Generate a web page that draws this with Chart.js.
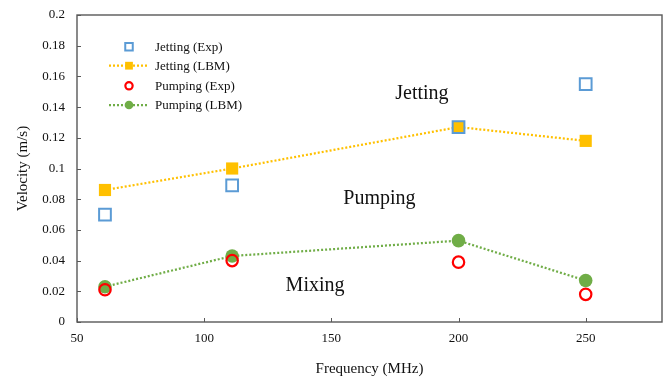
<!DOCTYPE html>
<html>
<head>
<meta charset="utf-8">
<script src="https://cdn.jsdelivr.net/npm/chart.js@4/dist/chart.umd.min.js"></script>
<style>
  html, body { margin: 0; padding: 0; background: #fff; }
  #wrap { width: 664px; height: 379px; }
</style>
</head>
<body>
<div id="wrap"><canvas id="c" width="664" height="379"></canvas></div>
<script>
// Measured velocities against driving frequency
const frequencies = [61, 111, 200, 250];
const jettingExp  = [0.070, 0.089, 0.127, 0.155];
const jettingLBM  = [0.086, 0.100, 0.127, 0.118];
const pumpingExp  = [0.021, 0.040, 0.039, 0.018];
const pumpingLBM  = [0.023, 0.043, 0.053, 0.027];

const xTickValues = [50, 100, 150, 200, 250];
const seriesNames = ['Jetting (Exp)', 'Jetting (LBM)', 'Pumping (Exp)', 'Pumping (LBM)'];

// Flow regime labels placed in data coordinates
const regimeText = ['Jetting', 'Pumping', 'Mixing'];
const regimeFreq = [185.6, 168.9, 143.6];
const regimeVel  = [0.1454, 0.0769, 0.0202];

const SERIF = "'Liberation Serif', 'Times New Roman', serif";
const BLUE = '#5B9BD5', GOLD = '#FFC000', RED = '#FF0000', GREEN = '#70AD47';

const pts = vals => frequencies.map((f, i) => ({ x: f, y: vals[i] }));

const datasets = [
  { label: seriesNames[0], data: pts(jettingExp), showLine: false,
    pointStyle: 'rect', pointRadius: 8.3, pointBorderWidth: 2,
    pointBackgroundColor: 'rgba(0,0,0,0)', pointBorderColor: BLUE, borderColor: BLUE },
  { label: seriesNames[1], data: pts(jettingLBM), showLine: true,
    borderColor: GOLD, borderWidth: 2.25, borderDash: [2, 2],
    pointStyle: 'rect', pointRadius: 8.6, pointBorderWidth: 0,
    pointBackgroundColor: GOLD, pointBorderColor: GOLD },
  { label: seriesNames[2], data: pts(pumpingExp), showLine: false,
    pointStyle: 'circle', pointRadius: 5.7, pointBorderWidth: 2.2,
    pointBackgroundColor: 'rgba(0,0,0,0)', pointBorderColor: RED, borderColor: RED },
  { label: seriesNames[3], data: pts(pumpingLBM), showLine: true,
    borderColor: GREEN, borderWidth: 2.25, borderDash: [2, 2],
    pointStyle: 'circle', pointRadius: 6.8, pointBorderWidth: 0,
    pointBackgroundColor: GREEN, pointBorderColor: GREEN }
];

// Plot frame, inward tick marks, regime labels and the inset legend
const decorations = {
  id: 'decorations',
  beforeDatasetsDraw(chart) {
    const { ctx, chartArea: a, scales } = chart;
    ctx.save();
    ctx.strokeStyle = '#595959';
    ctx.lineWidth = 1.4;
    ctx.strokeRect(a.left, a.top, a.right - a.left, a.bottom - a.top);
    ctx.lineWidth = 1;
    ctx.beginPath();
    scales.x.ticks.forEach(t => {
      const px = Math.round(scales.x.getPixelForValue(t.value)) + 0.5;
      ctx.moveTo(px, a.bottom);
      ctx.lineTo(px, a.bottom - 4);
    });
    scales.y.ticks.forEach(t => {
      const py = Math.round(scales.y.getPixelForValue(t.value)) + 0.5;
      ctx.moveTo(a.left, py);
      ctx.lineTo(a.left + 4, py);
    });
    ctx.stroke();
    ctx.restore();
  },
  afterDatasetsDraw(chart) {
    const { ctx, scales } = chart;
    ctx.save();
    ctx.fillStyle = '#111';
    ctx.font = '20px ' + SERIF;
    ctx.textAlign = 'center';
    ctx.textBaseline = 'alphabetic';
    regimeText.forEach((t, i) => {
      ctx.fillText(t, scales.x.getPixelForValue(regimeFreq[i]), scales.y.getPixelForValue(regimeVel[i]));
    });

    // legend
    const rowsY = [46.7, 65.7, 85.8, 105];
    const lineX0 = 109, lineX1 = 147, markX = 129, textX = 155;
    chart.data.datasets.forEach((ds, i) => {
      const y = rowsY[i];
      if (ds.showLine) {
        ctx.save();
        ctx.strokeStyle = ds.borderColor;
        ctx.lineWidth = ds.borderWidth;
        ctx.setLineDash(ds.borderDash);
        ctx.beginPath();
        ctx.moveTo(lineX0, y);
        ctx.lineTo(lineX1, y);
        ctx.stroke();
        ctx.restore();
      }
      ctx.save();
      ctx.fillStyle = ds.pointBackgroundColor;
      ctx.strokeStyle = ds.pointBorderColor;
      ctx.lineWidth = ds.pointBorderWidth;
      Chart.helpers.drawPoint(ctx, {
        pointStyle: ds.pointStyle, rotation: 0,
        radius: ds.pointRadius * 0.64, borderWidth: ds.pointBorderWidth
      }, markX, y);
      ctx.restore();
      ctx.fillStyle = '#111';
      ctx.font = '13px ' + SERIF;
      ctx.textAlign = 'left';
      ctx.textBaseline = 'middle';
      ctx.fillText(ds.label, textX, y + 1);
    });
    ctx.restore();
  }
};

new Chart(document.getElementById('c'), {
  type: 'scatter',
  data: { datasets },
  options: {
    responsive: false,
    animation: false,
    devicePixelRatio: 1,
    layout: { autoPadding: false, padding: { left: 0, right: 2, top: 15, bottom: 0 } },
    plugins: { legend: { display: false }, tooltip: { enabled: false } },
    scales: {
      x: {
        type: 'linear', min: 50, max: 280,
        afterBuildTicks: s => { s.ticks = xTickValues.map(v => ({ value: v })); },
        afterFit: s => { s.height = 57; s.paddingLeft = 0; s.paddingRight = 0; },
        grid: { display: false, drawTicks: false },
        border: { display: false },
        ticks: { padding: 9, color: '#111', font: { family: SERIF, size: 13 }, maxRotation: 0 },
        title: { display: true, text: 'Frequency (MHz)', color: '#111',
                 font: { family: SERIF, size: 15 }, padding: { top: 0, bottom: 1 } }
      },
      y: {
        min: 0, max: 0.2,
        afterFit: s => { s.width = 77; s.paddingTop = 0; s.paddingBottom = 0; },
        grid: { display: false, drawTicks: false },
        border: { display: false },
        ticks: { stepSize: 0.02, padding: 12, color: '#111',
                 font: { family: SERIF, size: 13 },
                 callback: v => String(Math.round(v * 100) / 100) },
        title: { display: true, text: 'Velocity (m/s)', color: '#111',
                 font: { family: SERIF, size: 15 }, padding: { top: 14, bottom: 0 } }
      }
    }
  },
  plugins: [decorations]
});
</script>
</body>
</html>
